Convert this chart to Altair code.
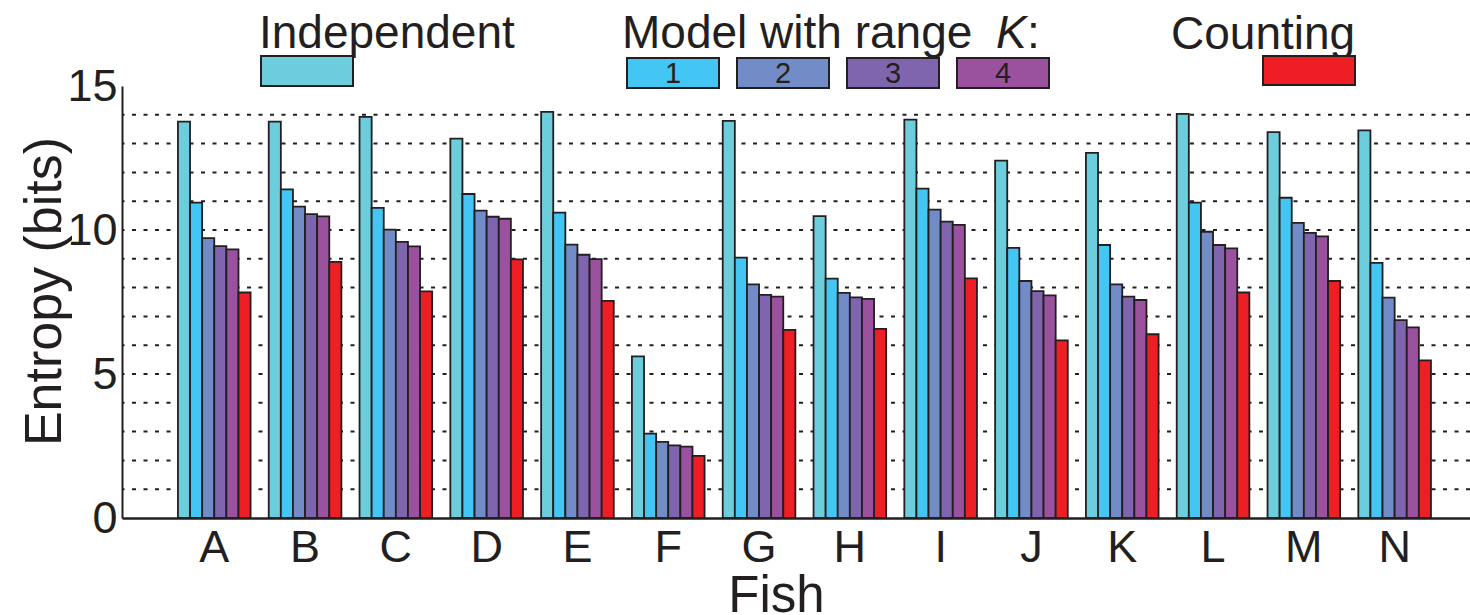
import altair as alt
import pandas as pd

# Entropy estimates (bits) per fish for each estimator
fish = list("ABCDEFGHIJKLMN")
independent = [13.76, 13.76, 13.93, 13.17, 14.10, 5.61, 13.79, 10.48, 13.83, 12.41, 12.68, 14.03, 13.40, 13.46]
range_k1 = [10.95, 11.41, 10.77, 11.25, 10.60, 2.93, 9.04, 8.31, 11.44, 9.38, 9.48, 10.95, 11.12, 8.86]
range_k2 = [9.72, 10.81, 10.01, 10.67, 9.49, 2.64, 8.11, 7.82, 10.71, 8.23, 8.11, 9.94, 10.25, 7.65]
range_k3 = [9.44, 10.55, 9.59, 10.46, 9.14, 2.52, 7.75, 7.66, 10.29, 7.88, 7.69, 9.48, 9.90, 6.87]
range_k4 = [9.33, 10.47, 9.43, 10.39, 8.99, 2.48, 7.69, 7.61, 10.18, 7.73, 7.57, 9.36, 9.78, 6.62]
counting = [7.83, 8.89, 7.87, 8.98, 7.54, 2.16, 6.53, 6.57, 8.32, 6.17, 6.38, 7.83, 8.23, 5.47]

series_names = ["Independent", "K=1", "K=2", "K=3", "K=4", "Counting"]
series_values = [independent, range_k1, range_k2, range_k3, range_k4, counting]
series_colors = ["#6CCDDC", "#43C6F3", "#728CC8", "#7F65AD", "#9B529E", "#EE1F24"]

y_ticks = [0, 5, 10, 15]
grid_levels = list(range(1, 15))

INK = "#231F20"
FONT = "Liberation Sans"
W, H = 1348, 432

rows = []
for name, vals in zip(series_names, series_values):
    for f, v in zip(fish, vals):
        rows.append({"fish": f, "series": name, "value": v})
bars_df = pd.DataFrame(rows)

y_scale = alt.Scale(domain=[0, 15], nice=False)
y_axis = alt.Axis(
    title="Entropy (bits)", values=y_ticks, grid=False, ticks=False,
    labelFont=FONT, labelFontSize=45, labelColor=INK, labelPadding=5,
    domainColor=INK, domainWidth=2,
    titleFont=FONT, titleFontSize=52, titleFontWeight="normal", titleColor=INK,
    titleAngle=270, titleX=-62, titleY=205, titleAlign="center",
    titleBaseline="alphabetic",
)

grid = alt.Chart(pd.DataFrame({"value": grid_levels})).mark_rule(
    color=INK, strokeWidth=2, strokeDash=[4, 7.5]
).encode(
    y=alt.Y("value:Q", scale=y_scale, axis=y_axis)
)

bars = alt.Chart(bars_df).mark_bar(stroke=INK, strokeWidth=1.8).encode(
    x=alt.X(
        "fish:N",
        sort=fish,
        scale=alt.Scale(domain=fish, paddingInner=0.2, paddingOuter=0.523, align=0.589),
        axis=alt.Axis(
            title="Fish", labelAngle=0, labelFont=FONT, labelFontSize=45, labelColor=INK,
            labelBaseline="alphabetic", labelPadding=43, ticks=False, tickSize=0,
            domainColor=INK, domainWidth=2.5,
            titleFont=FONT, titleFontSize=51, titleFontWeight="normal", titleColor=INK,
            titleX=654, titleY=93, titleAlign="center", titleBaseline="alphabetic",
        ),
    ),
    xOffset=alt.XOffset(
        "series:N", sort=series_names,
        scale=alt.Scale(domain=series_names, paddingInner=0, paddingOuter=0),
    ),
    y=alt.Y("value:Q", scale=y_scale, axis=y_axis),
    color=alt.Color("series:N", sort=series_names,
                    scale=alt.Scale(domain=series_names, range=series_colors), legend=None),
)

# Hand-built key above the plot
one = pd.DataFrame({"k": [0]})


def label(txt, x, y, size=46, style="normal", align="left"):
    return alt.Chart(one).mark_text(
        font=FONT, fontSize=size, fontStyle=style, color=INK, align=align, baseline="alphabetic"
    ).encode(x=alt.value(x), y=alt.value(y), text=alt.value(txt))


def swatch(color, x0, x1, y0, y1):
    return alt.Chart(one).mark_rect(fill=color, stroke=INK, strokeWidth=2).encode(
        x=alt.value(x0), x2=alt.value(x1), y=alt.value(y0), y2=alt.value(y1)
    )


key = [
    label("Independent", 137, -38),
    swatch(series_colors[0], 139, 231, -30, 0),
    label("Model with range", 500, -38),
    label("K", 874, -38, style="italic"),
    label(":", 905, -38),
    label("Counting", 1049, -37),
    swatch(series_colors[5], 1141, 1233, -30, -1),
]
for i, x0 in enumerate([505, 615, 725, 835]):
    key.append(swatch(series_colors[i + 1], x0, x0 + 92, -28, 2))
    key.append(label(str(i + 1), x0 + 46, -3, size=29, align="center"))

chart = alt.layer(grid, bars, *key).properties(
    width=W, height=H,
    autosize=alt.AutoSizeParams(type="none"),
    padding={"left": 122, "top": 86, "right": 0, "bottom": 97},
    background="white",
).configure_view(stroke=None)

chart.save("out.html", embed_options={"renderer": "svg", "actions": False})
